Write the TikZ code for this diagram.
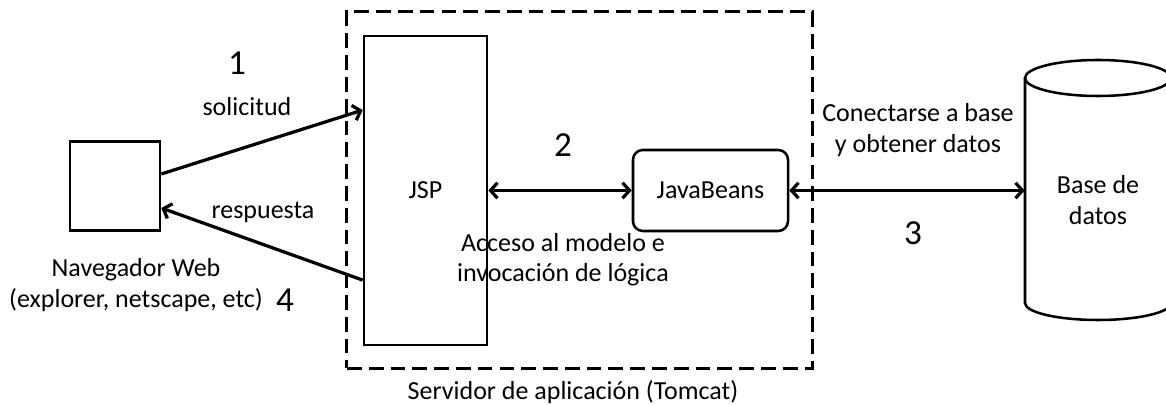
\documentclass[tikz,border=0pt]{standalone}
\usepackage{fontspec}
\setmainfont{Carlito}
\usetikzlibrary{arrows.meta}

\begin{document}
\begin{tikzpicture}[x=0.025cm, y=-0.025cm,
  box/.style={draw, line width=1.8pt, inner sep=0pt},
  lbl/.style={font=\fontsize{18.5}{21.5}\selectfont, align=center, inner sep=0pt},
  num/.style={font=\fontsize{25}{30}\selectfont, inner sep=0pt},
  barb/.tip={Straight Barb[length=5pt,width=11pt]},
  link/.style={line width=2.3pt}]
\useasboundingbox (0,0) rectangle (1166,405);
\clip (0,0) rectangle (1166,405);

\node[box, dashed, line width=2.1pt, dash pattern=on 10.5pt off 5pt,
  minimum width=11.625cm, minimum height=8.9cm] (server) at (579.5,190) {};
\node[lbl] (tomcat) at (573,392) {Servidor de aplicación (Tomcat)};

\node[box, minimum width=2.25cm, minimum height=2.225cm] (web) at (115,186) {};
\node[lbl] (webtxt) at (136,285) {Navegador Web\\(explorer, netscape, etc)};

\node[box, lbl, minimum width=3.075cm, minimum height=7.725cm] (jsp) at (425.5,190.5) {JSP};
\node[box, lbl, rounded corners=7pt, minimum width=3.875cm, minimum height=2.025cm]
  (beans) at (710.5,190.5) {JavaBeans};

\begin{scope}[line width=1.8pt]
\draw (1025,78) -- (1025,303) arc[start angle=180, end angle=0, x radius=73, y radius=17] -- (1171,78);
\draw (1098,78) ellipse [x radius=73, y radius=18];
\end{scope}
\node[lbl, minimum width=3.65cm] (db) at (1098,200) {Base de\\datos};

\draw[link, -barb] ([yshift=0.3cm]web.east) -- ([yshift=2.01cm]jsp.west);
\draw[link, -barb] ([yshift=-2.24cm]jsp.west) -- ([yshift=-0.55cm]web.east);
\draw[link, barb-barb] (jsp.east) -- (beans.west);
\draw[link, barb-barb] (beans.east) -- (beans.east -| db.west);

\node[num] (n1) at (237,63) {1};
\node[lbl] (req) at (247,107) {solicitud};
\node[lbl] (resp) at (263,212) {respuesta};
\node[num] (n4) at (285,300) {4};
\node[num] (n2) at (563,145) {2};
\node[lbl] (model) at (563,260) {Acceso al modelo e\\invocación de lógica};
\node[lbl] (conn) at (918,130) {Conectarse a base\\y obtener datos};
\node[num] (n3) at (913,233) {3};
\end{tikzpicture}
\end{document}
